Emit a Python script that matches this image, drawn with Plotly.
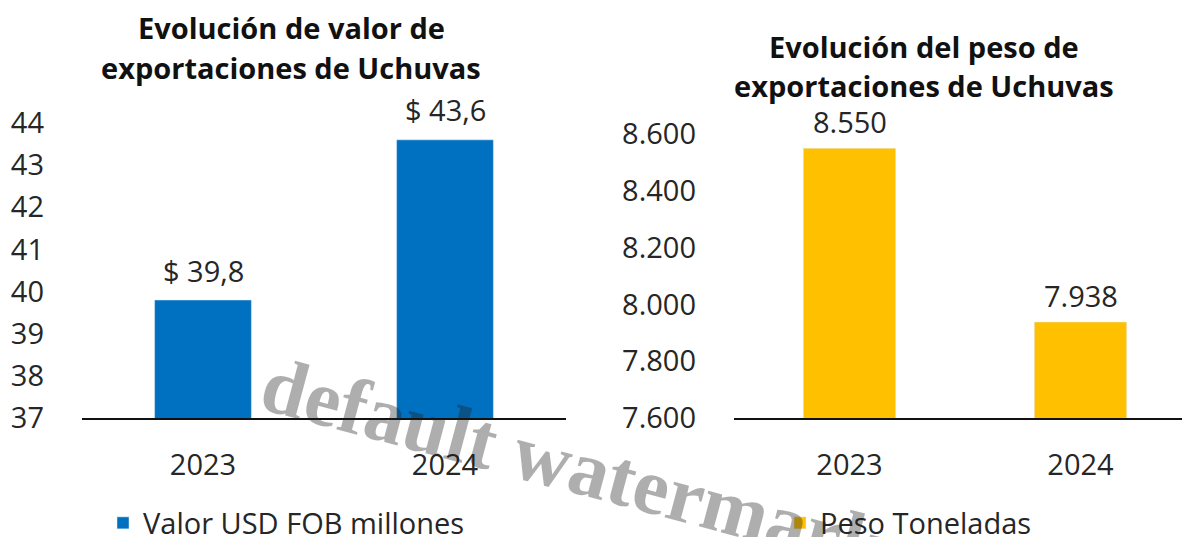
import plotly.graph_objects as go

# ---- data ----
years = ["2023", "2024"]
valor_usd = [39.8, 43.6]
peso_ton = [8550, 7938]
valor_ticks = [37, 38, 39, 40, 41, 42, 43, 44]
peso_ticks = [7600, 7800, 8000, 8200, 8400, 8600]
title_left = ["Evolución de valor de", "exportaciones de Uchuvas"]
title_right = ["Evolución del peso de", "exportaciones de Uchuvas"]
legend_left = "Valor USD FOB millones"
legend_right = "Peso Toneladas"
watermark = "default watermark"

W, H = 1182, 537
BLUE = "#0070C0"
GOLD = "#FFC000"
TXT = "#262626"
FONT = "Open Sans"
FS = 29


def fx(p):
    return p / W


def fy(p):
    return 1 - p / H


def fmt_usd(v):
    return "$ " + f"{v:.1f}".replace(".", ",")


def fmt_ton(v):
    return f"{v:,.0f}".replace(",", ".")


fig = go.Figure()
fig.add_trace(go.Bar(x=years, y=valor_usd, name=legend_left, marker_color=BLUE,
                     width=0.4, xaxis="x", yaxis="y", legend="legend", showlegend=True,
                     hoverinfo="skip"))
fig.add_trace(go.Bar(x=years, y=peso_ton, name=legend_right, marker_color=GOLD,
                     width=0.4, xaxis="x2", yaxis="y2", legend="legend2", showlegend=True,
                     hoverinfo="skip"))

ann = []
for i, v in enumerate(valor_usd):
    ann.append(dict(x=i, y=v, xref="x", yref="y", text=fmt_usd(v), showarrow=False,
                    xanchor="center", yanchor="middle", yshift=30,
                    font=dict(size=FS, color=TXT, family=FONT)))
for i, v in enumerate(peso_ton):
    ann.append(dict(x=i, y=v, xref="x2", yref="y2", text=fmt_ton(v), showarrow=False,
                    xanchor="center", yanchor="middle", yshift=27,
                    font=dict(size=FS, color=TXT, family=FONT)))

for k, line in enumerate(title_left):
    ann.append(dict(x=fx(291), y=fy(28 + 40 * k), xref="paper", yref="paper", text="<b>" + line + "</b>",
                    showarrow=False, xanchor="center", yanchor="middle",
                    font=dict(size=FS, color="#111111", family=FONT)))
for k, line in enumerate(title_right):
    ann.append(dict(x=fx(924), y=fy(47 + 39 * k), xref="paper", yref="paper", text="<b>" + line + "</b>",
                    showarrow=False, xanchor="center", yanchor="middle",
                    font=dict(size=FS, color="#111111", family=FONT)))

# watermark
ann.append(dict(x=fx(574), y=fy(465), xref="paper", yref="paper", text="<b>" + watermark + "</b>",
                showarrow=False, textangle=15, xanchor="center", yanchor="middle",
                font=dict(size=80, color="rgba(30,30,30,0.36)", family="Liberation Serif")))

axis_common = dict(showgrid=False, zeroline=False, ticks="", automargin=False, fixedrange=True,
                   tickfont=dict(size=FS, color=TXT, family=FONT))

fig.update_layout(
    width=W, height=H,
    margin=dict(l=0, r=0, t=0, b=0, autoexpand=False),
    paper_bgcolor="white", plot_bgcolor="white",
    font=dict(family=FONT, color=TXT),
    bargap=0.6,
    showlegend=True,
    xaxis=dict(domain=[fx(82), fx(566)], range=[-0.5, 1.5], type="category", anchor="y",
               showline=True, linecolor="#111111", linewidth=1.5, ticklabelstandoff=20, **axis_common),
    yaxis=dict(domain=[fy(418), fy(123)], range=[37, 44], anchor="x", tickmode="array",
               tickvals=valor_ticks, ticktext=[str(t) for t in valor_ticks],
               showline=False, ticklabelstandoff=37, **axis_common),
    xaxis2=dict(domain=[fx(734), 1.0], range=[-0.5, -0.5 + 448 / 231], type="category", anchor="y2",
                showline=True, linecolor="#111111", linewidth=1.5, ticklabelstandoff=20, **axis_common),
    yaxis2=dict(domain=[fy(418), fy(134)], range=[7600, 8600], anchor="x2", tickmode="array",
                tickvals=peso_ticks, ticktext=[fmt_ton(t) for t in peso_ticks],
                showline=False, ticklabelstandoff=37, **axis_common),
    legend=dict(x=fx(103), y=fy(523), xanchor="left", yanchor="middle", orientation="h",
                font=dict(size=FS, color=TXT, family=FONT), bgcolor="rgba(0,0,0,0)", visible=True),
    legend2=dict(x=fx(780), y=fy(523), xanchor="left", yanchor="middle", orientation="h",
                 font=dict(size=FS, color=TXT, family=FONT), bgcolor="rgba(0,0,0,0)", visible=True),
    annotations=ann,
)

fig.write_html("out.html", config={"displayModeBar": False},
               post_script="document.body.style.margin='0';document.body.style.overflow='hidden';")
